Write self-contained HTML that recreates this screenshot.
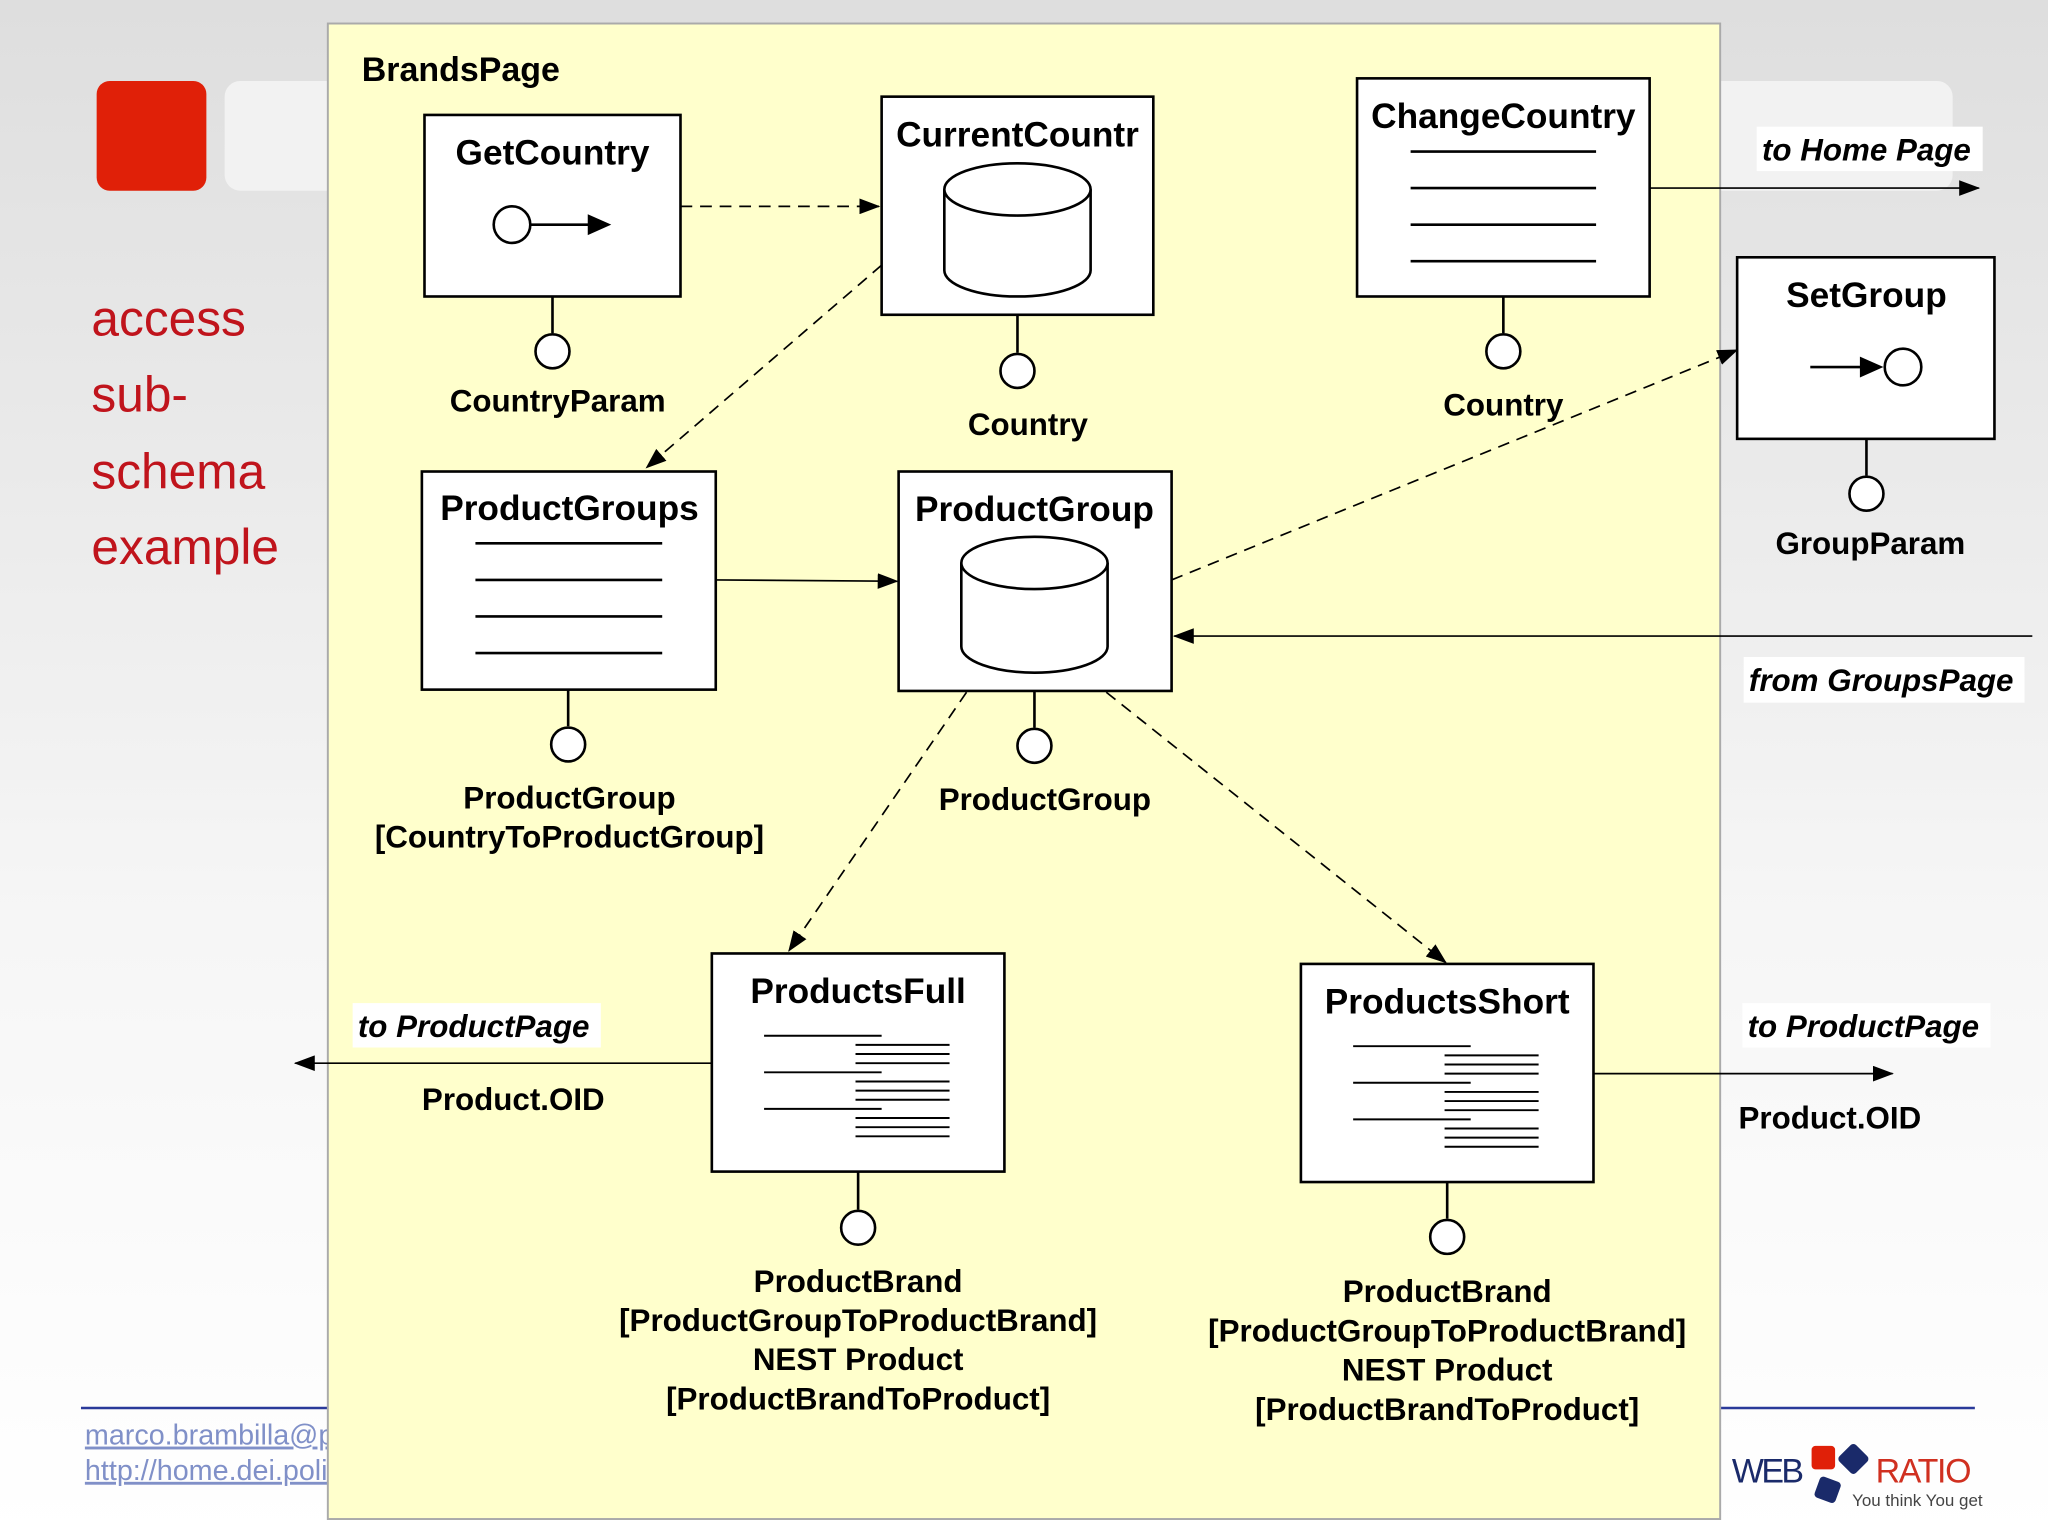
<!DOCTYPE html>
<html><head><meta charset="utf-8"><style>
html,body{margin:0;padding:0;width:2048px;height:1536px;overflow:hidden;}
svg{display:block}
text{font-family:"Liberation Sans",sans-serif;}
.t{font-size:27px;font-weight:bold;text-anchor:middle}
.l{font-size:24px;font-weight:bold;text-anchor:middle}
.i{font-size:24px;font-weight:bold;font-style:italic;}
.b{fill:#fff;stroke:#000;stroke-width:2}
.s{stroke:#000;stroke-width:1.3;fill:none}
.d{stroke:#000;stroke-width:1.3;fill:none;stroke-dasharray:9,6}
.ln{stroke:#000;stroke-width:2}
.c{fill:#fff;stroke:#000;stroke-width:2}
</style></head><body>
<svg width="2048" height="1536" viewBox="0 0 1568 1176" xmlns="http://www.w3.org/2000/svg">
<defs>
<linearGradient id="bg" x1="0" y1="0" x2="0" y2="1"><stop offset="0" stop-color="#dedede"/><stop offset="0.6" stop-color="#f6f6f6"/><stop offset="1" stop-color="#ffffff"/></linearGradient>
<marker id="a" markerWidth="16" markerHeight="12" refX="15" refY="6" orient="auto" markerUnits="userSpaceOnUse"><path d="M0,0 L16,6 L0,12 z" fill="#000"/></marker>
</defs>
<rect width="1568" height="1176" fill="url(#bg)"/>
<rect x="172" y="62" width="1323" height="84" rx="12" fill="#f2f2f2"/>
<rect x="74" y="62" width="84" height="84" rx="10" fill="#e02008"/>
<g fill="#c0141c" font-size="38"><text x="70" y="257">access</text><text x="70" y="315">sub-</text><text x="70" y="374">schema</text><text x="70" y="432">example</text></g>
<line x1="62" y1="1078" x2="1512" y2="1078" stroke="#2a3a9a" stroke-width="2"/>
<g fill="#8090c8" font-size="22" text-decoration="underline"><text x="65" y="1106">marco.brambilla@polimi.it</text><text x="65" y="1133">http://home.dei.polimi.it</text></g>
<rect x="251" y="18" width="1066" height="1145" fill="#ffffcc" stroke="#aaa" stroke-width="1.5"/>
<text x="277" y="62" font-size="26" font-weight="bold">BrandsPage</text>
<text x="1326" y="1135" font-size="26" fill="#1a2a6a" letter-spacing="-2">WEB</text>
<rect x="1387" y="1107" width="18" height="18" rx="3" fill="#e02008"/>
<rect x="1410" y="1108" width="18" height="18" rx="3" fill="#1a2a6a" transform="rotate(45 1419 1117)"/>
<rect x="1391" y="1132" width="17" height="17" rx="3" fill="#1a2a6a" transform="rotate(20 1399 1140)"/>
<text x="1436" y="1135" font-size="26" fill="#d03020" letter-spacing="-1">RATIO</text>
<text x="1418" y="1153" font-size="13" fill="#444">You think You get</text>
<line class="d" x1="521" y1="158" x2="673" y2="158" marker-end="url(#a)"/>
<line class="d" x1="675" y1="203" x2="495" y2="358" marker-end="url(#a)"/>
<line class="s" x1="548" y1="444" x2="687" y2="445" marker-end="url(#a)"/>
<line class="d" x1="897" y1="444" x2="1330" y2="268" marker-end="url(#a)"/>
<line class="s" x1="1556" y1="487" x2="899" y2="487" marker-end="url(#a)"/>
<line class="d" x1="740" y1="530" x2="604" y2="728" marker-end="url(#a)"/>
<line class="d" x1="847" y1="530" x2="1107" y2="737" marker-end="url(#a)"/>
<line class="s" x1="1263" y1="144" x2="1515" y2="144" marker-end="url(#a)"/>
<line class="s" x1="545" y1="814" x2="226" y2="814" marker-end="url(#a)"/>
<line class="s" x1="1220" y1="822" x2="1449" y2="822" marker-end="url(#a)"/>
<rect class="b" x="325" y="88" width="196" height="139"/>
<text class="t" x="423" y="126">GetCountry</text>
<line class="ln" x1="406" y1="172" x2="458" y2="172"/><path d="M450,164 L468,172 L450,180z"/><circle class="c" cx="392" cy="172" r="14"/>
<line class="ln" x1="423" y1="227" x2="423" y2="255"/><circle class="c" cx="423" cy="269" r="13"/>
<text class="l" x="427" y="315">CountryParam</text>
<rect class="b" x="675" y="74" width="208" height="167"/>
<text class="t" x="779" y="112">CurrentCountr</text>
<path class="c" d="M723,145 L723,207 A56,20 0 0 0 835,207 L835,145"/><ellipse class="c" cx="779" cy="145" rx="56" ry="20"/>
<line class="ln" x1="779" y1="241" x2="779" y2="270"/><circle class="c" cx="779" cy="284" r="13"/>
<text class="l" x="787" y="333">Country</text>
<rect class="b" x="1039" y="60" width="224" height="167"/>
<text class="t" x="1151" y="98">ChangeCountry</text>
<g class="ln"><line x1="1080" y1="116" x2="1222" y2="116"/><line x1="1080" y1="144" x2="1222" y2="144"/><line x1="1080" y1="172" x2="1222" y2="172"/><line x1="1080" y1="200" x2="1222" y2="200"/></g>
<line class="ln" x1="1151" y1="227" x2="1151" y2="255"/><circle class="c" cx="1151" cy="269" r="13"/>
<text class="l" x="1151" y="318">Country</text>
<rect class="b" x="1330" y="197" width="197" height="139"/>
<text class="t" x="1429" y="235">SetGroup</text>
<line class="ln" x1="1386" y1="281" x2="1432" y2="281"/><path d="M1424,273 L1442,281 L1424,289z"/><circle class="c" cx="1457" cy="281" r="14"/>
<line class="ln" x1="1429" y1="336" x2="1429" y2="364"/><circle class="c" cx="1429" cy="378" r="13"/>
<text class="l" x="1432" y="424">GroupParam</text>
<rect class="b" x="323" y="361" width="225" height="167"/>
<text class="t" x="436" y="398">ProductGroups</text>
<g class="ln"><line x1="364" y1="416" x2="507" y2="416"/><line x1="364" y1="444" x2="507" y2="444"/><line x1="364" y1="472" x2="507" y2="472"/><line x1="364" y1="500" x2="507" y2="500"/></g>
<line class="ln" x1="435" y1="528" x2="435" y2="556"/><circle class="c" cx="435" cy="570" r="13"/>
<text class="l" x="436" y="619">ProductGroup</text><text class="l" x="436" y="649">[CountryToProductGroup]</text>
<rect class="b" x="688" y="361" width="209" height="168"/>
<text class="t" x="792" y="399">ProductGroup</text>
<path class="c" d="M736,431 L736,495 A56,20 0 0 0 848,495 L848,431"/><ellipse class="c" cx="792" cy="431" rx="56" ry="20"/>
<line class="ln" x1="792" y1="529" x2="792" y2="557"/><circle class="c" cx="792" cy="571" r="13"/>
<text class="l" x="800" y="620">ProductGroup</text>
<rect class="b" x="545" y="730" width="224" height="167"/>
<text class="t" x="657" y="768">ProductsFull</text>
<g stroke="#000" stroke-width="1.5"><line x1="585" y1="793" x2="675" y2="793"/><line x1="585" y1="821" x2="675" y2="821"/><line x1="585" y1="849" x2="675" y2="849"/>
<line x1="655" y1="800" x2="727" y2="800"/><line x1="655" y1="807" x2="727" y2="807"/><line x1="655" y1="814" x2="727" y2="814"/><line x1="655" y1="828" x2="727" y2="828"/><line x1="655" y1="835" x2="727" y2="835"/><line x1="655" y1="842" x2="727" y2="842"/><line x1="655" y1="856" x2="727" y2="856"/><line x1="655" y1="863" x2="727" y2="863"/><line x1="655" y1="870" x2="727" y2="870"/></g>
<line class="ln" x1="657" y1="897" x2="657" y2="926"/><circle class="c" cx="657" cy="940" r="13"/>
<text class="l" x="657" y="989">ProductBrand</text><text class="l" x="657" y="1019">[ProductGroupToProductBrand]</text><text class="l" x="657" y="1049">NEST Product</text><text class="l" x="657" y="1079">[ProductBrandToProduct]</text>
<rect class="b" x="996" y="738" width="224" height="167"/>
<text class="t" x="1108" y="776">ProductsShort</text>
<g stroke="#000" stroke-width="1.5"><line x1="1036" y1="801" x2="1126" y2="801"/><line x1="1036" y1="829" x2="1126" y2="829"/><line x1="1036" y1="857" x2="1126" y2="857"/>
<line x1="1106" y1="808" x2="1178" y2="808"/><line x1="1106" y1="815" x2="1178" y2="815"/><line x1="1106" y1="822" x2="1178" y2="822"/><line x1="1106" y1="836" x2="1178" y2="836"/><line x1="1106" y1="843" x2="1178" y2="843"/><line x1="1106" y1="850" x2="1178" y2="850"/><line x1="1106" y1="864" x2="1178" y2="864"/><line x1="1106" y1="871" x2="1178" y2="871"/><line x1="1106" y1="878" x2="1178" y2="878"/></g>
<line class="ln" x1="1108" y1="905" x2="1108" y2="933"/><circle class="c" cx="1108" cy="947" r="13"/>
<text class="l" x="1108" y="997">ProductBrand</text><text class="l" x="1108" y="1027">[ProductGroupToProductBrand]</text><text class="l" x="1108" y="1057">NEST Product</text><text class="l" x="1108" y="1087">[ProductBrandToProduct]</text>
<rect x="1345" y="97" width="173" height="34" fill="#fff"/><text class="i" x="1349" y="123">to Home Page</text>
<rect x="1335" y="503" width="215" height="35" fill="#fff"/><text class="i" x="1339" y="529">from GroupsPage</text>
<rect x="270" y="768" width="190" height="34" fill="#fff"/><text class="i" x="274" y="794">to ProductPage</text>
<rect x="1334" y="768" width="190" height="34" fill="#fff"/><text class="i" x="1338" y="794">to ProductPage</text>
<text class="l" x="393" y="850">Product.OID</text>
<text class="l" x="1401" y="864">Product.OID</text>
</svg>
</body></html>
